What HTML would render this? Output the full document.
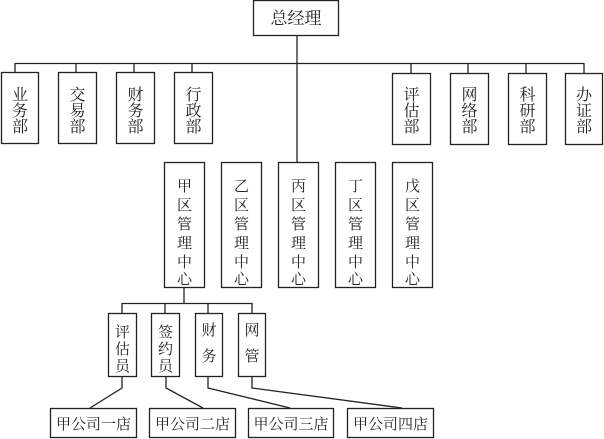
<!DOCTYPE html>
<html><head><meta charset="utf-8"><style>
html,body{margin:0;padding:0;background:#fff;}
svg{display:block;}
text{font-family:"Liberation Serif","Noto Serif CJK SC",serif;fill:#222;}
</style></head><body>
<svg width="604" height="439" viewBox="0 0 604 439" xmlns="http://www.w3.org/2000/svg">
<g stroke="#222" stroke-width="1.3" fill="none">
<rect x="253.5" y="0.5" width="85" height="35"/>
<line x1="297" y1="35" x2="297" y2="162"/>
<line x1="15" y1="63.5" x2="584" y2="63.5"/>
<line x1="15" y1="63" x2="15" y2="73"/>
<line x1="76" y1="63" x2="76" y2="73"/>
<line x1="134" y1="63" x2="134" y2="73"/>
<line x1="192" y1="63" x2="192" y2="73"/>
<line x1="411" y1="63" x2="411" y2="74"/>
<line x1="468" y1="63" x2="468" y2="74"/>
<line x1="526" y1="63" x2="526" y2="74"/>
<line x1="584" y1="63" x2="584" y2="74"/>
<rect x="1.5" y="72.5" width="37" height="71"/>
<rect x="58.5" y="72.5" width="38" height="71"/>
<rect x="116.5" y="72.5" width="38" height="71"/>
<rect x="174.5" y="72.5" width="38" height="71"/>
<rect x="392.5" y="73.5" width="38" height="71"/>
<rect x="450.5" y="73.5" width="38" height="71"/>
<rect x="508.5" y="73.5" width="38" height="71"/>
<rect x="565.5" y="73.5" width="37" height="71"/>
<rect x="164.5" y="162.5" width="40" height="125"/>
<rect x="221.5" y="162.5" width="40" height="125"/>
<rect x="278.5" y="162.5" width="40" height="125"/>
<rect x="335.5" y="162.5" width="40" height="125"/>
<rect x="392.5" y="162.5" width="40" height="125"/>
<line x1="184" y1="287" x2="184" y2="303"/>
<line x1="122" y1="303.5" x2="252" y2="303.5"/>
<line x1="122" y1="303" x2="122" y2="314"/>
<line x1="165" y1="303" x2="165" y2="314"/>
<line x1="208" y1="303" x2="208" y2="314"/>
<line x1="252" y1="303" x2="252" y2="314"/>
<rect x="108.5" y="313.5" width="28" height="63"/>
<rect x="151.5" y="313.5" width="28" height="63"/>
<rect x="195.5" y="313.5" width="27" height="63"/>
<rect x="238.5" y="313.5" width="27" height="63"/>
<polyline points="122,377 122,388 90,408"/>
<polyline points="166,377 166,388 203,408"/>
<polyline points="208,377 208,388 290,408"/>
<polyline points="252,377 252,388 402,408"/>
<rect x="50.5" y="408.5" width="86" height="29"/>
<rect x="149.5" y="408.5" width="86" height="29"/>
<rect x="248.5" y="408.5" width="85" height="29"/>
<rect x="347.5" y="408.5" width="86" height="29"/>
</g>
<g font-size="17" text-anchor="middle">
<text x="296" y="24">总经理</text>
</g>
<g font-size="16" text-anchor="middle">
<text x="20" y="100">业</text><text x="20" y="116">务</text><text x="20" y="132">部</text>
<text x="77.5" y="100">交</text><text x="77.5" y="116">易</text><text x="77.5" y="132">部</text>
<text x="135.5" y="100">财</text><text x="135.5" y="116">务</text><text x="135.5" y="132">部</text>
<text x="193.5" y="100">行</text><text x="193.5" y="116">政</text><text x="193.5" y="132">部</text>
<text x="411.5" y="100">评</text><text x="411.5" y="116">估</text><text x="411.5" y="132">部</text>
<text x="469.5" y="100">网</text><text x="469.5" y="116">络</text><text x="469.5" y="132">部</text>
<text x="527.5" y="100">科</text><text x="527.5" y="116">研</text><text x="527.5" y="132">部</text>
<text x="584" y="100">办</text><text x="584" y="116">证</text><text x="584" y="132">部</text>
</g>
<g font-size="15" text-anchor="middle">
<g transform="translate(184.5,0)"><text y="191">甲</text><text y="210">区</text><text y="229">管</text><text y="248">理</text><text y="267">中</text><text y="284">心</text></g>
<g transform="translate(241.5,0)"><text y="191">乙</text><text y="210">区</text><text y="229">管</text><text y="248">理</text><text y="267">中</text><text y="284">心</text></g>
<g transform="translate(298.5,0)"><text y="191">丙</text><text y="210">区</text><text y="229">管</text><text y="248">理</text><text y="267">中</text><text y="284">心</text></g>
<g transform="translate(355.5,0)"><text y="191">丁</text><text y="210">区</text><text y="229">管</text><text y="248">理</text><text y="267">中</text><text y="284">心</text></g>
<g transform="translate(412.5,0)"><text y="191">戊</text><text y="210">区</text><text y="229">管</text><text y="248">理</text><text y="267">中</text><text y="284">心</text></g>
<g transform="translate(122.5,0)"><text y="337">评</text><text y="354">估</text><text y="371">员</text></g>
<g transform="translate(165.5,0)"><text y="337">签</text><text y="354">约</text><text y="371">员</text></g>
<g transform="translate(209,0)"><text y="335">财</text><text y="361">务</text></g>
<g transform="translate(252,0)"><text y="335">网</text><text y="361">管</text></g>
<text x="93.5" y="429">甲公司一店</text>
<text x="192.5" y="429">甲公司二店</text>
<text x="291" y="429">甲公司三店</text>
<text x="390.5" y="429">甲公司四店</text>
</g>
</svg>
</body></html>
